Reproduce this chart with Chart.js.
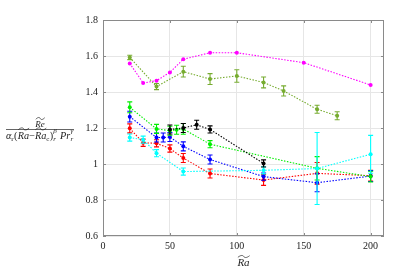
<!DOCTYPE html>
<html><head>
<script src="https://cdn.jsdelivr.net/npm/chart.js"></script>
<style>html,body{margin:0;padding:0;background:#fff}#wrap{width:399px;height:272px}</style>
</head><body>
<div id="wrap"><canvas id="c" width="399" height="272"></canvas></div>
<script>
const xTicks=[0,50,100,150,200];
const yTicks=[0.6,0.8,1,1.2,1.4,1.6,1.8];

const magX=[20,30,40,50,60,80,100,150,200];
const magY=[1.559,1.450,1.463,1.509,1.582,1.618,1.618,1.563,1.439];
const magE=[0,0,0,0,0,0,0,0,0];

const oliveX=[20,40,60,80,100,120,135,160,175];
const oliveY=[1.592,1.430,1.513,1.472,1.489,1.453,1.406,1.304,1.268];
const oliveE=[0.012,0.017,0.03,0.03,0.035,0.03,0.028,0.022,0.022];

const greenX=[20,40,50,55,60,80,160,200];
const greenY=[1.315,1.195,1.185,1.190,1.195,1.110,0.976,0.930];
const greenE=[0.03,0.025,0.025,0.025,0.03,0.02,0.065,0.03];

const blueX=[20,40,45,50,60,80,120,160,200];
const blueY=[1.263,1.147,1.147,1.150,1.098,1.025,0.930,0.896,0.933];
const blueE=[0.03,0.025,0.025,0.025,0.025,0.025,0.02,0.05,0.03];

const redX=[20,30,40,50,60,80,120,160,200];
const redY=[1.198,1.118,1.115,1.086,1.033,0.947,0.911,0.948,0.935];
const redE=[0.025,0.02,0.02,0.02,0.025,0.025,0.03,0.06,0.03];

const cyanX=[20,30,40,60,120,160,200];
const cyanY=[1.147,1.135,1.060,0.958,0.965,0.975,1.054];
const cyanE=[0.02,0.02,0.02,0.02,0.02,0.2,0.105];

const blackX=[50,60,70,80,120];
const blackY=[1.192,1.200,1.218,1.192,1.003];
const blackE=[0.025,0.025,0.025,0.02,0.02];

const series=[
  {x:blackX,y:blackY,e:blackE,c:'#000000'},
  {x:magX,y:magY,e:magE,c:'#ff00ff'},
  {x:oliveX,y:oliveY,e:oliveE,c:'#77ac30'},
  {x:cyanX,y:cyanY,e:cyanE,c:'#00ffff'},
  {x:greenX,y:greenY,e:greenE,c:'#00ee00'},
  {x:blueX,y:blueY,e:blueE,c:'#0000ff'},
  {x:redX,y:redY,e:redE,c:'#ff0000'}
];

const FONT='"Liberation Serif","Times New Roman",serif';

const datasets=series.map(s=>({
  data:s.x.map((v,i)=>({x:v,y:s.y[i]})),
  errs:s.e,
  borderColor:s.c, backgroundColor:s.c,
  showLine:true, borderWidth:1.1, borderDash:[1.5,1.5],
  pointRadius:2, pointBorderWidth:0, pointHoverRadius:2, tension:0
}));

const errPlugin={
  id:'err',
  afterDatasetDraw(chart,args){
    const ds=chart.data.datasets[args.index];
    const xs=chart.scales.x, ys=chart.scales.y, ctx=chart.ctx;
    ctx.save(); ctx.strokeStyle=ds.borderColor; ctx.lineWidth=1.1;
    ds.data.forEach((p,i)=>{
      const e=ds.errs[i]; if(!e) return;
      const px=xs.getPixelForValue(p.x);
      const y1=ys.getPixelForValue(p.y-e), y2=ys.getPixelForValue(p.y+e);
      ctx.beginPath();
      ctx.moveTo(px,y1);ctx.lineTo(px,y2);
      ctx.moveTo(px-2.5,y1);ctx.lineTo(px+2.5,y1);
      ctx.moveTo(px-2.5,y2);ctx.lineTo(px+2.5,y2);
      ctx.stroke();
    });
    ctx.restore();
  }
};

function tilde(ctx,x1,x2,y){
  const w=x2-x1;
  ctx.save();ctx.lineWidth=0.7;ctx.strokeStyle='#222';
  ctx.beginPath();ctx.moveTo(x1,y+0.8);
  ctx.bezierCurveTo(x1+w*0.3,y-2,x1+w*0.45,y-1,x1+w*0.5,y);
  ctx.bezierCurveTo(x1+w*0.55,y+1,x1+w*0.7,y+2,x2,y-0.8);
  ctx.stroke();ctx.restore();
}

function layout(ctx,tokens,scale,draw,x0,base){
  let x=x0;
  for(const t of tokens){
    const size=(t.s?5.5:8)*scale;
    ctx.font=(t.it?'italic ':'')+size+'px '+FONT;
    if(t.s==='subsup'){
      const w1=ctx.measureText(t.sub).width, w2=ctx.measureText(t.sup).width;
      if(draw){ctx.fillText(t.sub,x,base+2*scale);ctx.fillText(t.sup,x,base-4*scale);}
      x+=Math.max(w1,w2)+0.5*scale; continue;
    }
    const w=ctx.measureText(t.t).width;
    if(draw){
      const dy=t.s==='sub'?2*scale:(t.s==='sup'?-4*scale:0);
      ctx.fillText(t.t,x,base+dy);
      if(t.tl) tilde(ctx,x+0.5,x+w,base-7.5*scale);
    }
    x+=w+(t.gap||0)*scale;
  }
  return x-x0;
}

const labelPlugin={
  id:'labels',
  afterDraw(chart){
    const ctx=chart.ctx, a=chart.chartArea;
    ctx.save();
    ctx.strokeStyle='#8a8a8a'; ctx.lineWidth=1;
    ctx.strokeRect(a.left+0.5,a.top+0.5,a.right-a.left-1,a.bottom-a.top-1);
    ctx.beginPath();
    xTicks.forEach(v=>{const p=Math.round(chart.scales.x.getPixelForValue(v))+0.5;
      ctx.moveTo(p,a.bottom);ctx.lineTo(p,a.bottom-3);ctx.moveTo(p,a.top);ctx.lineTo(p,a.top+3);});
    yTicks.forEach(v=>{const p=Math.round(chart.scales.y.getPixelForValue(v))+0.5;
      ctx.moveTo(a.left,p);ctx.lineTo(a.left+3,p);ctx.moveTo(a.right,p);ctx.lineTo(a.right-3,p);});
    ctx.stroke();

    ctx.fillStyle='#222'; ctx.textBaseline='alphabetic'; ctx.textAlign='left';
    ctx.font='italic 11px '+FONT;
    const cx=(a.left+a.right)/2;
    const wRa=ctx.measureText('Ra').width;
    ctx.fillText('Ra',cx-wRa/2,266);
    tilde(ctx,cx-wRa/2+0.5,cx+wRa/2,256.5);

    const fx=40;
    ctx.font='italic 9px '+FONT;
    const wRe=ctx.measureText('Re').width;
    ctx.fillText('Re',fx-wRe/2,126.5);
    tilde(ctx,fx-wRe/2+0.5,fx+wRe/2,118.5);
    const toks=[
      {t:'\u03b1',it:true},{t:'r',s:'sub',it:false,gap:0.3},{t:'(',gap:0.2},
      {t:'Ra',it:true,tl:true},{t:'\u2212',gap:0},{t:'Ra',it:true,tl:true},{t:'c',s:'sub',gap:0.2},
      {t:')',gap:0.2},{s:'subsup',sub:'r',sup:'\u03b2',it:true},{t:' '},
      {t:'Pr',it:true,gap:0.2},{s:'subsup',sub:'r',sup:'\u03b3',it:true}
    ];
    const w0=layout(ctx,toks,1,false,0,0);
    const sc=68/w0;
    layout(ctx,toks,sc,true,fx-34,138.5);
    ctx.strokeStyle='#222';ctx.lineWidth=0.7;
    ctx.beginPath();ctx.moveTo(6,129.5);ctx.lineTo(74,129.5);ctx.stroke();
    ctx.restore();
  }
};

new Chart(document.getElementById('c'),{
  type:'scatter',
  data:{datasets},
  plugins:[errPlugin,labelPlugin],
  options:{
    responsive:false, animation:false, devicePixelRatio:1,
    layout:{padding:{left:0,right:15,top:20,bottom:0}},
    plugins:{legend:{display:false},tooltip:{enabled:false}},
    scales:{
      x:{type:'linear',min:0,max:210,
        afterBuildTicks:s=>{s.ticks=xTicks.map(v=>({value:v}));},
        afterFit:s=>{s.height=36;},
        grid:{color:'#e6e6e6',drawTicks:false},
        border:{display:false},
        ticks:{padding:4,color:'#222',font:{family:FONT,size:10},maxRotation:0,autoSkip:false}},
      y:{type:'linear',min:0.6,max:1.8,
        afterBuildTicks:s=>{s.ticks=yTicks.map(v=>({value:v}));},
        afterFit:s=>{s.width=103;},
        grid:{color:'#e6e6e6',drawTicks:false},
        border:{display:false},
        ticks:{padding:5,color:'#222',font:{family:FONT,size:10},autoSkip:false,
          callback:v=>String(Math.round(v*10)/10)}}
    }
  }
});
</script>
</body></html>
